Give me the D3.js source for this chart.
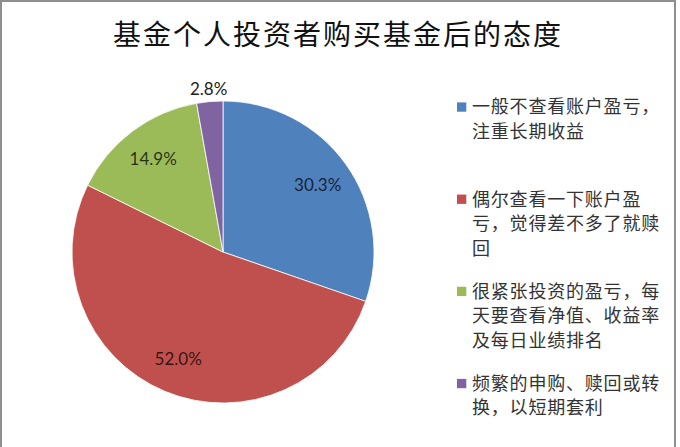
<!DOCTYPE html>
<html>
<head>
<meta charset="utf-8">
<script src="https://cdn.jsdelivr.net/npm/d3@7"></script>
<style>
  body { margin: 0; background: #fff; }
  svg { display: block; }
</style>
</head>
<body>
<div id="chart"></div>
<script>
// data, clockwise from 12 o'clock
var categories = [
  ["一般不查看账户盈亏，", "注重长期收益"],
  ["偶尔查看一下账户盈", "亏，觉得差不多了就赎", "回"],
  ["很紧张投资的盈亏，每", "天要查看净值、收益率", "及每日业绩排名"],
  ["频繁的申购、赎回或转", "换，以短期套利"]
];
var values = [30.3, 52.0, 14.9, 2.8];
var colors = ["#4F81BD", "#C0504D", "#9BBB59", "#8064A2"];
var title = "基金个人投资者购买基金后的态度";

var width = 680, height = 447;
var cx = 223, cy = 252, radius = 151;

var svg = d3.select("#chart")
    .append("svg")
    .attr("width", width)
    .attr("height", height);

// grey frame, bottom edge falls off the picture
svg.append("rect")
    .attr("x", 1)
    .attr("y", 1)
    .attr("width", 674)
    .attr("height", height + 10)
    .attr("fill", "none")
    .attr("stroke", "#8f8f8f")
    .attr("stroke-width", 2);

svg.append("text")
    .attr("x", 338)
    .attr("y", 45)
    .attr("text-anchor", "middle")
    .attr("font-family", "'Noto Sans CJK SC', sans-serif")
    .attr("font-size", 28)
    .attr("letter-spacing", 2)
    .attr("fill", "#111")
    .text(title);

var pie = d3.pie().sort(null).value(d => d);
var arcs = pie(values);
var arc = d3.arc().innerRadius(0).outerRadius(radius);
var labelArc = d3.arc().innerRadius(radius * 0.77).outerRadius(radius * 0.77);
var outerArc = d3.arc().innerRadius(radius + 13).outerRadius(radius + 13);

var g = svg.append("g")
    .attr("transform", "translate(" + cx + "," + cy + ")");

g.selectAll("path")
    .data(arcs)
    .enter()
    .append("path")
    .attr("d", arc)
    .attr("fill", (d, i) => colors[i])
    .attr("stroke", "#fff")
    .attr("stroke-width", 0.8);

// small slices get their label outside the pie
g.selectAll("text.pct")
    .data(arcs)
    .enter()
    .append("text")
    .attr("class", "pct")
    .attr("transform", d => {
      var p = d.data < 5 ? outerArc.centroid(d) : labelArc.centroid(d);
      return "translate(" + p[0] + "," + p[1] + ")";
    })
    .attr("text-anchor", "middle")
    .attr("dy", "0.36em")
    .attr("font-family", "Lato, sans-serif")
    .attr("font-size", 17)
    .attr("fill", d => d.data < 5 ? "#222" : "#000")
    .attr("fill-opacity", d => d.data < 5 ? 1 : 0.75)
    .text(d => d.data.toFixed(1) + "%");

// legend
var lineH = 24.5;
var yEntry = d3.scalePoint()
    .domain(d3.range(categories.length))
    .range([107, 383.5]);

var legend = svg.selectAll("g.legend")
    .data(categories)
    .enter()
    .append("g")
    .attr("class", "legend")
    .attr("transform", (d, i) => "translate(457," + yEntry(i) + ")");

legend.append("rect")
    .attr("x", 0)
    .attr("y", -4.6)
    .attr("width", 9.3)
    .attr("height", 9.3)
    .attr("fill", (d, i) => colors[i]);

legend.append("text")
    .attr("font-family", "'Noto Sans CJK SC', sans-serif")
    .attr("font-size", 18)
    .attr("letter-spacing", 0.8)
    .attr("fill", "#333")
    .selectAll("tspan")
    .data(d => d)
    .enter()
    .append("tspan")
    .attr("x", 15)
    .attr("y", (d, i) => i * lineH)
    .attr("dy", "0.36em")
    .text(d => d);
</script>
</body>
</html>
